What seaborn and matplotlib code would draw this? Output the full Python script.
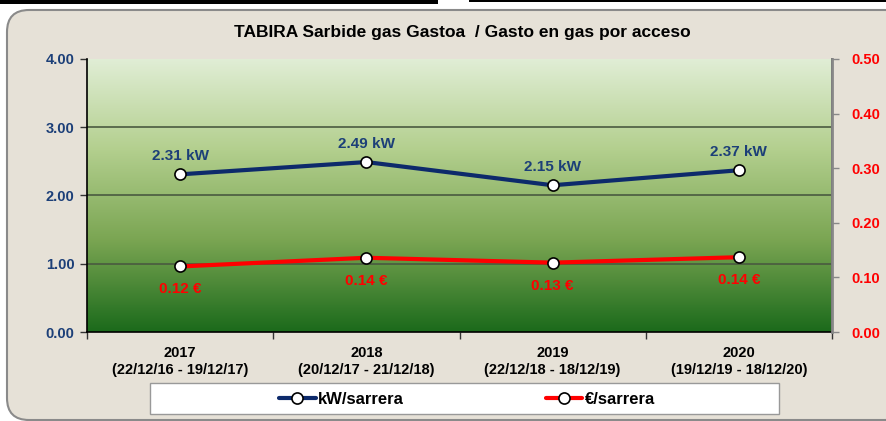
import numpy as np
import pandas as pd
import seaborn as sns
import matplotlib.pyplot as plt
from matplotlib.patches import FancyBboxPatch, Rectangle
from matplotlib.colors import LinearSegmentedColormap
from matplotlib.transforms import IdentityTransform

# data
years = ['2017', '2018', '2019', '2020']
periods = ['(22/12/16 - 19/12/17)', '(20/12/17 - 21/12/18)',
           '(22/12/18 - 18/12/19)', '(19/12/19 - 18/12/20)']
kw_sarrera = [2.31, 2.49, 2.15, 2.37]
eur_sarrera = [0.12, 0.136, 0.127, 0.137]
left_ticks = [0, 1, 2, 3, 4]
right_ticks = [0, 0.1, 0.2, 0.3, 0.4, 0.5]

df = pd.DataFrame({'pos': np.arange(len(years)), 'kw': kw_sarrera, 'eur': eur_sarrera})

sns.set_theme(style='white')
plt.rcParams['font.family'] = ['Liberation Sans', 'DejaVu Sans']
plt.rcParams['font.weight'] = 'bold'
plt.rcParams['text.color'] = 'black'

navy = '#0d2a6b'
lbl_navy = '#1c3f78'
red = '#ff0000'

fig = plt.figure(figsize=(8.86, 4.21), dpi=100, facecolor='white')

# beige rounded frame
frame = FancyBboxPatch((7, 1), 900, 410, boxstyle='round,pad=0,rounding_size=22',
                       transform=IdentityTransform(), facecolor='#e6e1d7',
                       edgecolor='#8a8a8a', linewidth=1.5, zorder=-5)
fig.patches.append(frame)
fig.patches.append(Rectangle((0, 417), 438, 4, transform=IdentityTransform(),
                             facecolor='black', edgecolor='none', zorder=-4))
fig.patches.append(Rectangle((469, 419), 417, 2, transform=IdentityTransform(),
                             facecolor='black', edgecolor='none', zorder=-4))

ax = fig.add_axes([87 / 886, 1 - 332 / 421, 745 / 886, 273 / 421])
ax.set_facecolor('none')

# gradient background
cmap = LinearSegmentedColormap.from_list('g', ['#e1eed6', '#b3cf8e', '#7aa552', '#1b6a1b'])
grad = np.linspace(0, 1, 256).reshape(-1, 1)
ax.imshow(grad, cmap=cmap, aspect='auto', extent=(-0.5, 3.5, 0, 4), origin='upper', zorder=0)

sns.lineplot(data=df, x='pos', y='kw', ax=ax, color=navy, linewidth=3,
             marker='o', markersize=8, markerfacecolor='white', markeredgecolor='black',
             markeredgewidth=1.2, label='kW/sarrera', zorder=5)
ax.set_xlim(-0.5, 3.5)
ax.set_ylim(0, 4)
for v in [1, 2, 3]:
    ax.axhline(v, color='#4a5a40', linewidth=1.2, zorder=1)

ax2 = ax.twinx()
sns.lineplot(data=df, x='pos', y='eur', ax=ax2, color=red, linewidth=3,
             marker='o', markersize=8, markerfacecolor='white', markeredgecolor='black',
             markeredgewidth=1.2, label='€/sarrera', zorder=5)
ax2.set_ylim(0, 0.5)
ax2.set_xlim(-0.5, 3.5)

for x, y in zip(df['pos'], kw_sarrera):
    ax.text(x, y + 0.27, f'{y:.2f} kW', ha='center', va='center', color=lbl_navy,
            fontsize=11, fontweight='bold', zorder=6)
for x, y in zip(df['pos'], eur_sarrera):
    ax2.text(x, y - 0.042, f'{y:.2f} €', ha='center', va='center', color=red,
             fontsize=11, fontweight='bold', zorder=6)

# axes styling
ax.set_xticks(df['pos'])
ax.set_xticklabels([f'{a}\n{b}' for a, b in zip(years, periods)], fontsize=10.5,
                   fontweight='bold', color='black', linespacing=1.25)
ax.set_xticks([-0.5, 0.5, 1.5, 2.5, 3.5], minor=True)
ax.tick_params(axis='x', which='major', length=0, pad=10)
ax.tick_params(axis='x', which='minor', length=5, width=1, color='#333333', direction='out', bottom=True)
ax.set_yticks(left_ticks)
ax.set_yticklabels([f'{v:.2f}' for v in left_ticks], fontsize=10.5, fontweight='bold', color=lbl_navy)
ax.tick_params(axis='y', length=5, width=1, color='#333333', direction='out', left=True, pad=4)
ax2.set_yticks(right_ticks)
ax2.set_yticklabels([f'{v:.2f}' for v in right_ticks], fontsize=10.5, fontweight='bold', color=red)
ax2.tick_params(axis='y', length=5, width=1, color='#888888', direction='out', right=True, pad=9)
ax.set_xlabel('')
ax.set_ylabel('')
ax2.set_ylabel('')

for a in (ax, ax2):
    a.spines['top'].set_visible(False)
ax.spines['left'].set_color('black')
ax.spines['bottom'].set_color('black')
ax.spines['bottom'].set_linewidth(1.2)
ax.spines['left'].set_linewidth(1.2)
ax2.spines['left'].set_visible(False)
ax2.spines['bottom'].set_visible(False)
ax2.spines['right'].set_color('#888888')
ax2.spines['right'].set_linewidth(2)

fig.text(462 / 886, 1 - 32 / 421, 'TABIRA Sarbide gas Gastoa  / Gasto en gas por acceso',
         ha='center', va='center', fontsize=12.5, fontweight='bold', color='black')

# legend
h1, l1 = ax.get_legend_handles_labels()
h2, l2 = ax2.get_legend_handles_labels()
ax.get_legend().remove()
ax2.get_legend().remove()
fig.patches.append(Rectangle((150, 421 - 414), 629, 31, transform=IdentityTransform(),
                             facecolor='white', edgecolor='#999999', linewidth=1, zorder=-4))
leg = fig.legend(h1 + h2, l1 + l2, loc='center', bbox_to_anchor=(467 / 886, 1 - 399 / 421),
                 ncol=2, frameon=False, handlelength=2.2, handletextpad=0.15,
                 columnspacing=8.5, prop={'weight': 'bold', 'size': 12})
for t in leg.get_texts():
    t.set_color('black')

fig.savefig('out.png', dpi=100, facecolor='white')
